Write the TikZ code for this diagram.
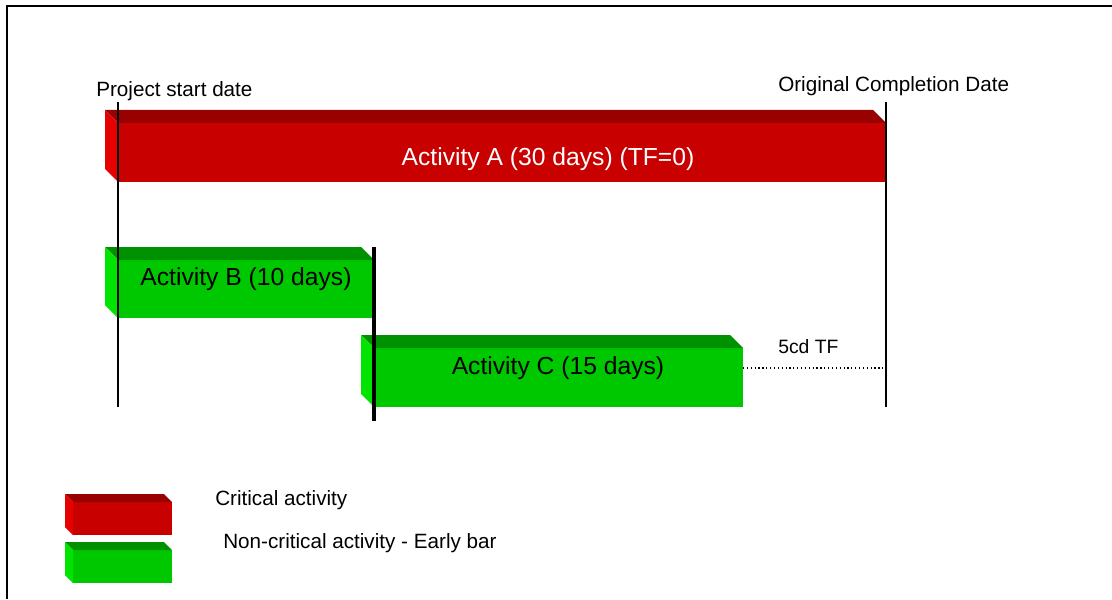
\documentclass[tikz,border=0pt]{standalone}
\usepackage{fontspec}
\setmainfont{Liberation Sans}
\usetikzlibrary{calc}
\definecolor{critfront}{RGB}{200,0,0}
\definecolor{crittop}{RGB}{153,0,0}
\definecolor{critside}{RGB}{230,0,0}
\definecolor{okfront}{RGB}{0,200,0}
\definecolor{oktop}{RGB}{0,145,0}
\definecolor{okside}{RGB}{0,228,0}
\tikzset{
  critbar/.style={fill=critfront,inner sep=0pt,outer sep=0pt},
  okbar/.style={fill=okfront,inner sep=0pt,outer sep=0pt},
  lbl/.style={inner sep=0pt,anchor=base west,font=\fontsize{15.5}{18}\selectfont},
  bartext/.style={font=\fontsize{18.5}{22}\selectfont},
  dateline/.style={line width=1.1pt}
}
% top and left faces of a 3d bar: node, depth, top colour, side colour
\newcommand{\barsides}[4]{%
  \fill[#3] (#1.north west) -- ++(-#2,-#2) -- ($(#1.north east)+(-#2,-#2)$) -- (#1.north east) -- cycle;
  \fill[#4] (#1.north west) -- ++(-#2,-#2) -- ($(#1.south west)+(-#2,-#2)$) -- (#1.south west) -- cycle;
}
\begin{document}
\begin{tikzpicture}[x=0.75pt,y=-0.75pt]
\useasboundingbox (0,0) rectangle (1112,599);
\draw[line width=1.5pt] (7,599)--(7,6)--(1112,6);
% bars
\node[critbar,minimum width=576pt,minimum height=44.25pt] (A) at (502,152.5) {};
\barsides{A}{13}{crittop}{critside}
\node[okbar,minimum width=192pt,minimum height=43.5pt] (B) at (246,289) {};
\barsides{B}{13}{oktop}{okside}
\node[okbar,minimum width=276.75pt,minimum height=44.25pt] (C) at (558.5,377.5) {};
\barsides{C}{13}{oktop}{okside}
% legend
\node[critbar,minimum width=74.25pt,minimum height=24.75pt] (keyA) at (122.5,518.5) {};
\barsides{keyA}{8}{crittop}{critside}
\node[okbar,minimum width=74.25pt,minimum height=24.75pt] (keyB) at (122.5,566.5) {};
\barsides{keyB}{8}{oktop}{okside}
% date lines
\coordinate (start top) at (118,102);
\coordinate (start bot) at (118,407);
\coordinate (end top) at (886,102);
\coordinate (end bot) at (886,407);
\coordinate (link top) at (374,247);
\coordinate (link bot) at (374,421);
\coordinate (tf end) at (885,368);
\draw[dateline] (start top)--(start bot);
\draw[dateline] (end top)--(end bot);
\draw[line width=2.3pt] (link top)--(link bot);
\draw[dotted,line width=0.9pt] (tf end -| C.east)--(tf end);
% texts
\node[lbl] (start) at (96,97) {Project start date};
\node[lbl] (finish) at (778,92) {Original Completion Date};
\node[bartext,text=white] (Atext) at (548,159) {Activity A (30 days) (TF=0)};
\node[bartext] (Btext) at (246,279) {Activity B (10 days)};
\node[bartext] (Ctext) at (558,368) {Activity C (15 days)};
\node[lbl,font=\fontsize{14.5}{17}\selectfont] (tf) at (778,353) {5cd TF};
\node[lbl] (keyAtext) at (215,505) {Critical activity};
\node[lbl] (keyBtext) at (223,548) {Non-critical activity - Early bar};
\end{tikzpicture}
\end{document}
